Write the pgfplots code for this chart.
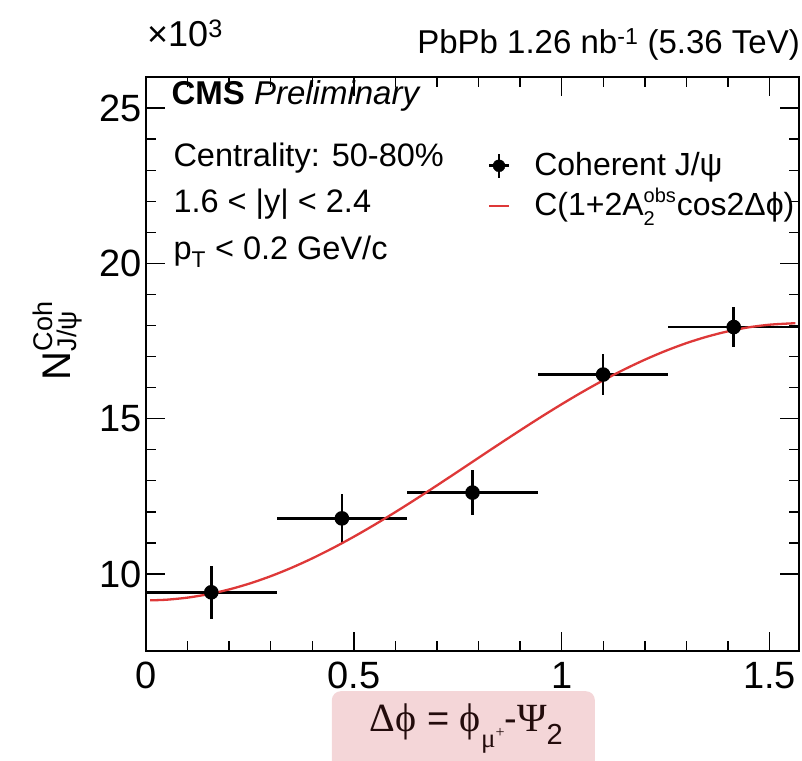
\documentclass[border=0pt]{standalone}
\usepackage{fontspec}
\usepackage{amsmath}
\usepackage{pgfplots}
\pgfplotsset{compat=1.18}
\setmainfont{Liberation Sans}
\newfontfamily\serifgr{Liberation Serif}
\definecolor{fitred}{RGB}{222,56,56}
\definecolor{labelbg}{RGB}{244,214,216}
\definecolor{labeltext}{RGB}{35,12,12}
\newcommand{\fs}[1]{\fontsize{#1bp}{#1bp}\selectfont}

\begin{document}
\begin{tikzpicture}
\path[use as bounding box] (0,0) rectangle (802bp,761bp);
\begin{axis}[
  at={(146bp,110.3bp)}, anchor=south west,
  width=653bp, height=573.7bp, scale only axis,
  xmin=0, xmax=1.5708, ymin=7.53, ymax=26,
  axis line style={line width=1.6bp},
  xtick={0,0.5,1,1.5}, ytick={10,15,20,25},
  minor x tick num=4, minor y tick num=4,
  tick align=inside, tick pos=both,
  major tick length=19bp, minor tick length=10bp,
  every tick/.style={black, line width=1.3bp},
  /pgf/number format/assume math mode=true,
  tick label style={font=\fs{38}},
  xticklabel style={yshift=-8bp},
  yticklabel style={xshift=-1bp},
  scaled y ticks=false,
  xlabel={\hspace*{6bp}{\serifgr\fs{40}Δϕ} {\fs{38}=} {\serifgr\fs{40}ϕ}\raisebox{-16bp}{\serifgr\fs{27}μ\raisebox{10bp}{\fs{16}+}}{\fs{38}-}{\serifgr\fs{40}Ψ}\raisebox{-13bp}{\fs{29}2}},
  xlabel style={at={(axis description cs:0.486,-0.0702)}, anchor=north,
    fill=labelbg, rounded corners=9bp, text=labeltext,
    minimum width=263bp, text height=36bp, text depth=38bp, inner ysep=4bp,
    font=\fs{38}},
  ylabel={$\text{N}^{\text{\fs{27}Coh}}_{\text{\fs{27}J/ψ}}$},
  ylabel style={at={(axis description cs:-0.135,0.54)}, anchor=center, font=\fs{40}},
  legend style={at={(axis description cs:0.523,0.87)}, anchor=north west,
    draw=none, fill=none, inner sep=0pt, row sep=7bp, column sep=24bp,
    font=\fs{32},
    nodes={inner sep=0pt, text height=24bp, text depth=9bp, anchor=base west}},
  legend cell align=left,
  clip=true,
]
% measured yields with bin widths and statistical errors
\addplot[black, line width=2.6bp, only marks, mark=*, mark size=6bp,
  error bars/.cd, x dir=both, x explicit, y dir=both, y explicit,
  error bar style={line width=2.6bp}, error mark=none]
  coordinates {
  (0.1571,9.41) +- (0.1571,0.85)
  (0.4712,11.79) +- (0.1571,0.80)
  (0.7854,12.62) +- (0.1571,0.72)
  (1.0996,16.42) +- (0.1571,0.66)
  (1.4137,17.95) +- (0.1571,0.63)
  };
\addlegendimage{black, legend image code/.code={
  \draw[line width=2.6bp] (0bp,10bp)--(20bp,10bp);
  \draw[line width=2.6bp] (10bp,-2bp)--(10bp,22bp);
  \fill (10bp,10bp) circle (6bp);}}
% fitted modulation C(1+2A cos 2dphi)
\addplot[fitred, line width=2.3bp, smooth, forget plot]
  coordinates {
  (0.01,9.151) (0.05,9.172) (0.10,9.239) (0.15,9.349) (0.20,9.502)
  (0.25,9.696) (0.30,9.929) (0.35,10.199) (0.40,10.503) (0.45,10.838)
  (0.50,11.200) (0.55,11.587) (0.60,11.994) (0.65,12.417) (0.70,12.852)
  (0.75,13.295) (0.80,13.740) (0.85,14.185) (0.90,14.623) (0.95,15.052)
  (1.00,15.466) (1.05,15.862) (1.10,16.235) (1.15,16.582) (1.20,16.899)
  (1.25,17.183) (1.30,17.432) (1.35,17.642) (1.40,17.812) (1.45,17.941)
  (1.50,18.025) (1.55,18.066) (1.562,18.069)
  };
\addlegendimage{fitred, legend image code/.code={
  \draw[fitred, line width=2.3bp] (0bp,10bp)--(20bp,10bp);}}
\legend{,Coherent J/ψ,C(1+2A\rlap{\raisebox{13bp}{\fs{20}obs}}\raisebox{-10bp}{\fs{20}2}\hspace{22bp}cos2Δϕ)}
\end{axis}
\node[anchor=base west, font=\fs{36}, inner xsep=1bp] at (146bp,714bp) {×10\textsuperscript{3}};
\node[anchor=base east, font=\fs{33}, inner xsep=2bp] at (802bp,707bp) {PbPb 1.26 nb\textsuperscript{-1} (5.36 TeV)};
\node[anchor=base west, font=\fs{33}] at (168bp,656bp) {\textbf{CMS} \textit{Preliminary}};
\node[anchor=base west, font=\fs{32.5}] at (170bp,594bp) {Centrality: 50-80\%};
\node[anchor=base west, font=\fs{32.5}] at (170bp,548bp) {1.6 < |y| < 2.4};
\node[anchor=base west, font=\fs{32.5}] at (170bp,501bp) {p\textsubscript{T} < 0.2 GeV/c};
\end{tikzpicture}
\end{document}
